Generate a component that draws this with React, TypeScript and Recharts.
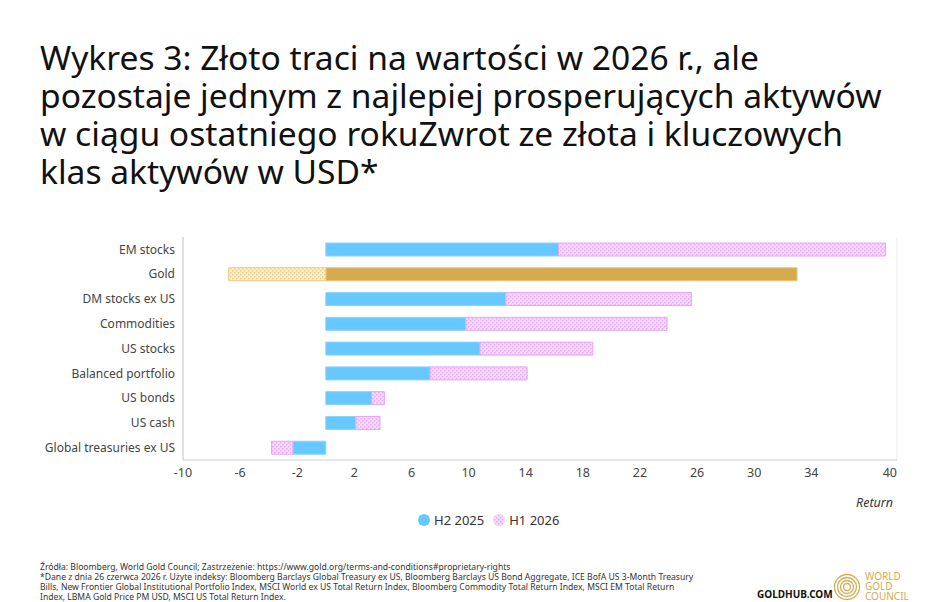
import { BarChart, Bar, XAxis, YAxis, CartesianGrid, Cell } from "recharts"

const categories = [
  "EM stocks",
  "Gold",
  "DM stocks ex US",
  "Commodities",
  "US stocks",
  "Balanced portfolio",
  "US bonds",
  "US cash",
  "Global treasuries ex US",
]
const h2_2025 = [16.3, 33.0, 12.6, 9.8, 10.8, 7.3, 3.2, 2.1, -2.3]
const h1_2026 = [22.9, -6.8, 13.0, 14.1, 7.9, 6.8, 0.9, 1.7, -1.5]
const xTicks = [-10, -6, -2, 2, 6, 10, 14, 18, 22, 26, 30, 34, 40]
const gridTicks = [-10, -8, -6, -4, -2, 0, 2, 4, 6, 8, 10, 12, 14, 16, 18, 20, 22, 24, 26, 28, 30, 32, 34, 36, 38, 40]

const rows = categories.map((name, i) => ({ name, h2: h2_2025[i], h1: h1_2026[i] }))

const FONT = "'Noto Sans', 'Open Sans', sans-serif"
const BLUE = "#66c8ff"
const GOLD = "#d6aa4e"

const titleLines = [
  "Wykres 3: Złoto traci na wartości w 2026 r., ale",
  "pozostaje jednym z najlepiej prosperujących aktywów",
  "w ciągu ostatniego rokuZwrot ze złota i kluczowych",
  "klas aktywów w USD*",
]
const footLines = [
  "Źródła: Bloomberg, World Gold Council; Zastrzeżenie: https://www.gold.org/terms-and-conditions#proprietary-rights",
  "*Dane z dnia 26 czerwca 2026 r. Użyte indeksy: Bloomberg Barclays Global Treasury ex US, Bloomberg Barclays US Bond Aggregate, ICE BofA US 3-Month Treasury",
  "Bills, New Frontier Global Institutional Portfolio Index, MSCI World ex US Total Return Index, Bloomberg Commodity Total Return Index, MSCI EM Total Return",
  "Index, LBMA Gold Price PM USD, MSCI US Total Return Index.",
]

function Hatch({ id, bg, dot }: { id: string; bg: string; dot: string }) {
  return (
    <pattern id={id} patternUnits="userSpaceOnUse" width="4" height="4">
      <rect width="4" height="4" fill={bg} />
      <rect x="0" y="0" width="1.5" height="1.5" fill={dot} />
      <rect x="2" y="2" width="1.5" height="1.5" fill={dot} />
    </pattern>
  )
}

function XTick(props: any) {
  const { x, y, payload } = props
  const last = payload.value === 40
  return (
    <text x={x} y={y} dy="0.71em" textAnchor={last ? "end" : "middle"} fill="#444" fontSize={12.5} fontFamily={FONT}>
      {payload.value}
    </text>
  )
}

export default function App() {
  return (
    <div style={{ position: "absolute", left: 0, top: 0, width: 948, height: 602, background: "#fff", fontFamily: FONT, color: "#111", overflow: "hidden" }}>
      <div style={{ position: "absolute", left: 40, top: 38, fontSize: 33.6, lineHeight: "38px", whiteSpace: "nowrap" }}>
        {titleLines.map((l) => (
          <div key={l}>{l}</div>
        ))}
      </div>

      <div style={{ position: "absolute", left: 0, top: 230 }}>
        <BarChart
          width={948}
          height={254}
          data={rows}
          layout="vertical"
          stackOffset="sign"
          barSize={13}
          margin={{ top: 7, right: 51, left: 0, bottom: 0 }}
        >
          <defs>
            <Hatch id="pinkHatch" bg="#f5dafc" dot="#e6adf7" />
            <Hatch id="goldHatch" bg="#fdf0d2" dot="#eccb86" />
          </defs>
          <CartesianGrid horizontal={false} stroke="#ebebeb" xAxisId="grid" />
          <XAxis
            xAxisId="grid"
            type="number"
            domain={[-10, 40]}
            ticks={gridTicks}
            hide
          />
          <XAxis
            type="number"
            domain={[-10, 40]}
            ticks={xTicks}
            interval={0}
            tick={<XTick />}
            tickLine={false}
            axisLine={{ stroke: "#cccccc" }}
            height={24}
          />
          <YAxis
            type="category"
            dataKey="name"
            width={183}
            tick={{ fill: "#444", fontSize: 12, fontFamily: FONT }}
            tickLine={false}
            axisLine={{ stroke: "#cccccc" }}
            interval={0}
          />
          <Bar dataKey="h2" stackId="a" isAnimationActive={false}>
            {rows.map((r, i) => (
              <Cell key={r.name} fill={i === 1 ? GOLD : BLUE} stroke={i === 1 ? "#e8c57a" : "#8ad4ff"} strokeWidth={1} />
            ))}
          </Bar>
          <Bar dataKey="h1" stackId="a" isAnimationActive={false}>
            {rows.map((r, i) => (
              <Cell
                key={r.name}
                fill={i === 1 ? "url(#goldHatch)" : "url(#pinkHatch)"}
                stroke={i === 1 ? "#ecc982" : "#e3a6f5"}
                strokeWidth={1}
              />
            ))}
          </Bar>
        </BarChart>
      </div>

      <div style={{ position: "absolute", right: 55, top: 494, fontSize: 12.5, fontStyle: "italic", color: "#333" }}>Return</div>

      <div style={{ position: "absolute", left: 417, top: 511, display: "flex", alignItems: "center", fontSize: 13, color: "#333" }}>
        <svg width={14} height={14} style={{ marginRight: 3 }}>
          <circle cx={7} cy={7} r={6} fill={BLUE} />
        </svg>
        <span style={{ marginRight: 8 }}>H2 2025</span>
        <svg width={14} height={14} style={{ marginRight: 3 }}>
          <defs>
            <Hatch id="pinkHatchLegend" bg="#f5dafc" dot="#e6adf7" />
          </defs>
          <circle cx={7} cy={7} r={6} fill="url(#pinkHatchLegend)" />
        </svg>
        <span>H1 2026</span>
      </div>

      <div style={{ position: "absolute", left: 40, top: 562, fontSize: 8.6, lineHeight: "10px", color: "#333", whiteSpace: "nowrap" }}>
        {footLines.map((l) => (
          <div key={l}>{l}</div>
        ))}
      </div>

      <div style={{ position: "absolute", left: 757, top: 589, fontSize: 10, lineHeight: "10px", fontWeight: 700, color: "#111" }}>GOLDHUB.COM</div>
      <svg style={{ position: "absolute", left: 833, top: 573 }} width={28} height={28}>
        {[12.5, 9.5, 6.5, 3.5].map((r) => (
          <circle key={r} cx={14} cy={14} r={r} fill="none" stroke={GOLD} strokeWidth={1.3} />
        ))}
      </svg>
      <div style={{ position: "absolute", left: 865, top: 571, fontSize: 10, lineHeight: "10px", color: GOLD }}>
        <div>WORLD</div>
        <div>GOLD</div>
        <div>COUNCIL</div>
      </div>
    </div>
  )
}
